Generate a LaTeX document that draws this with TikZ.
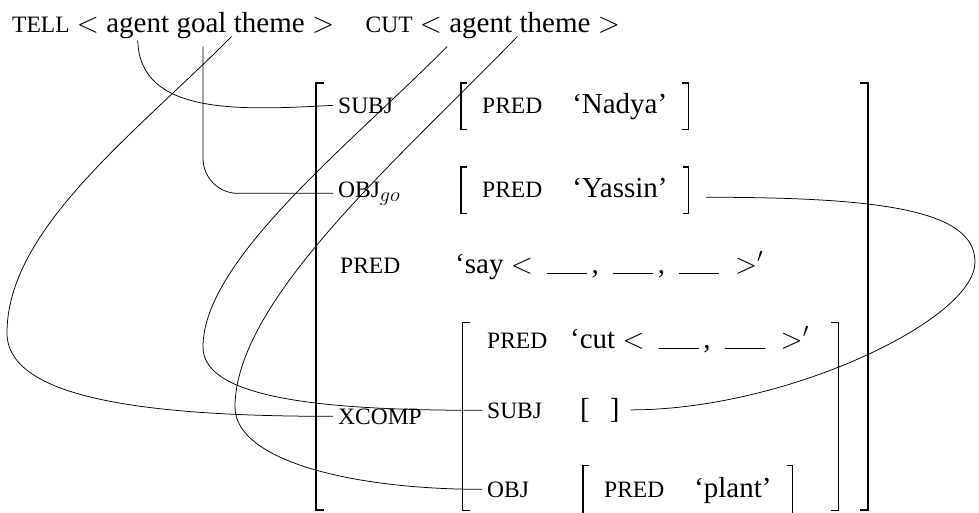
\RequirePackage{fix-cm}
\documentclass[tikz,border=0pt]{standalone}
\usepackage{fontspec}
\setmainfont{Liberation Serif}
\usepackage{tikz}
\usetikzlibrary{positioning}

\newcommand{\bodysz}{\fontsize{29}{34}\selectfont}
\newcommand{\fsc}[1]{{\fontsize{23.5}{28}\selectfont #1}}
\newcommand{\blankslot}{\rule[-0.5pt]{40pt}{0.9pt}}
% brackets round a node: [serif]{style}{node}
\newcommand{\fsbrackets}[3][6pt]{%
  \draw[#2] ([xshift=#1]#3.north west) -- (#3.north west) -- (#3.south west) -- ([xshift=#1]#3.south west);
  \draw[#2] ([xshift=-#1]#3.north east) -- (#3.north east) -- (#3.south east) -- ([xshift=-#1]#3.south east);}

\begin{document}
\begin{tikzpicture}[x=1pt, y=-1pt,
            link/.style={-, line width=0.75pt},
            brk/.style={line width=1.2pt},
            bigbrk/.style={line width=1.8pt},
            word/.style={inner sep=0pt, font=\bodysz},
            attr/.style={word, inner xsep=5pt, anchor=base west},
            fsval/.style={word, inner xsep=21pt, text height=19.8pt, text depth=6.3pt, anchor=base west},
            frame/.style={inner sep=0pt}]

        \useasboundingbox (0,0) rectangle (979,512);

        % argument structures
        \node[word, anchor=base west] (tell)   at (12,32) {\fsc{TELL} $<$};
        \node[word, base right=7pt of tell]    (tagent) {agent};
        \node[word, base right=7pt of tagent]  (tgoal)  {goal};
        \node[word, base right=7pt of tgoal]   (ttheme) {theme};
        \node[word, base right=7pt of ttheme]  (tend)   {$>$};
        \node[word, base right=31pt of tend]   (cut)    {\fsc{CUT} $<$};
        \node[word, base right=7pt of cut]     (cagent) {agent};
        \node[word, base right=7pt of cagent]  (ctheme) {theme};
        \node[word, base right=7pt of ctheme]  (cend)   {$>$};

        % f-structure
        \node[frame, minimum width=552pt, minimum height=427pt] (fsouter)  at (592,296.5) {};
        \node[frame, minimum width=375pt, minimum height=187pt] (xcompfs)  at (650.5,416.5) {};

        \node[attr] (subj)  at (333,113) {\fsc{SUBJ}};
        \node[fsval, minimum width=227pt, minimum height=46pt] (subjval) at (461,113) {\fsc{PRED}\hspace{30pt}‘Nadya’};
        \node[attr] (objgo) at (333,197) {\fsc{OBJ}$_{go}$};
        \node[fsval, minimum width=227pt, minimum height=46pt] (objgoval) at (461,197) {\fsc{PRED}\hspace{30pt}‘Yassin’};
        \node[attr] (pred)  at (335,273) {\fsc{PRED}};
        \node[attr] (predval) at (450,273) {‘say $<$\hspace{14pt}\blankslot\,,\hspace{14pt}\blankslot\,,\hspace{14pt}\blankslot\hspace{16pt}$>'$};
        \node[attr] (xcomp) at (333,424) {\fsc{XCOMP}};

        \node[attr] (ipred) at (482,348) {\fsc{PRED}};
        \node[attr] (ipredval) at (565,348) {‘cut $<$\hspace{14pt}\blankslot\,,\hspace{14pt}\blankslot\hspace{16pt}$>'$};
        \node[attr] (isubj) at (482,418) {\fsc{SUBJ}};
        \node[attr] (iempty) at (575,418) {[\hspace{20pt}]};
        \node[attr] (iobj)  at (482,497) {\fsc{OBJ}};
        \node[fsval, minimum height=49pt] (iobjval) at (583,497) {\fsc{PRED}\hspace{30pt}‘plant’};

        \fsbrackets[8pt]{bigbrk}{fsouter}
        \fsbrackets[7pt]{brk}{xcompfs}
        \fsbrackets{brk}{subjval}
        \fsbrackets{brk}{objgoval}
        \fsbrackets{brk}{iobjval}

        % links
        \draw[link] ([yshift=-2pt]tagent.south) .. controls +(2,75) and +(-93,5) .. (subj.west);
        \draw[link, rounded corners=35pt] ([shift={(1.5pt,-8pt)}]tgoal.south) |- (objgo.west);
        \draw[link] ([shift={(-2pt,-4pt)}]ttheme.south west) .. controls +(-100,100) and +(0,-103) .. (7,333)
                    .. controls +(0,67) and +(-180,0) .. (xcomp.west);
        \draw[link] ([shift={(-2pt,-8pt)}]cagent.south west) .. controls +(-98,99) and +(0,-87) .. (203,347)
                    .. controls +(0,53) and +(-152,0) .. (isubj.west);
        \draw[link] ([shift={(-2pt,-4pt)}]ctheme.south west) .. controls +(-118,122) and +(0,-107) .. (235,407)
                    .. controls +(0,53) and +(-132,0) .. (iobj.west);
        \draw[link] ([shift={(17pt,-7pt)}]objgoval.east) .. controls +(175,0) and +(0,-52) .. (975,262)
                    .. controls +(0,58) and +(155,0) .. ([xshift=6pt]iempty.east);

\end{tikzpicture}
\end{document}
